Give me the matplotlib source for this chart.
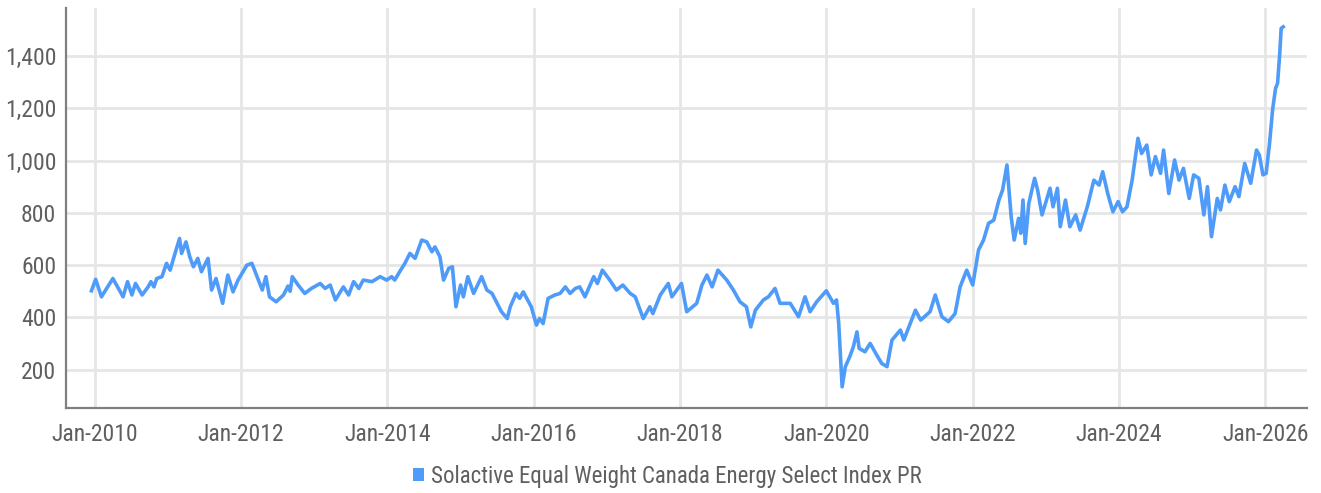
import matplotlib
matplotlib.use("Agg")
import matplotlib.pyplot as plt
import matplotlib.dates as mdates
from matplotlib import font_manager
from matplotlib.patches import Patch
from matplotlib.ticker import FuncFormatter, FixedLocator
import pandas as pd

# index level at turning points
dates = [
    "2009-12-15", "2010-01-05", "2010-02-03", "2010-04-01", "2010-05-22", "2010-06-13",
    "2010-07-05", "2010-07-23", "2010-08-25", "2010-09-24", "2010-10-08", "2010-10-23",
    "2010-11-06", "2010-12-02", "2010-12-25", "2011-01-12", "2011-02-03", "2011-02-28",
    "2011-03-10", "2011-04-01", "2011-04-20", "2011-05-08", "2011-05-30", "2011-06-17",
    "2011-07-20", "2011-08-07", "2011-08-29", "2011-10-01", "2011-10-27", "2011-11-22",
    "2011-12-17", "2012-01-30", "2012-02-24", "2012-03-21", "2012-04-16", "2012-05-04",
    "2012-05-22", "2012-06-24", "2012-07-31", "2012-08-22", "2012-09-02", "2012-09-13",
    "2012-10-12", "2012-11-14", "2012-12-17", "2013-01-30", "2013-02-24", "2013-03-21",
    "2013-04-16", "2013-05-26", "2013-06-21", "2013-07-16", "2013-08-11", "2013-09-02",
    "2013-10-16", "2013-11-25", "2013-12-28", "2014-01-22", "2014-02-06", "2014-03-03",
    "2014-03-29", "2014-04-23", "2014-05-19", "2014-06-21", "2014-07-16", "2014-08-11",
    "2014-08-26", "2014-09-20", "2014-10-08", "2014-11-03", "2014-11-21", "2014-12-09",
    "2015-01-01", "2015-01-15", "2015-02-06", "2015-03-07", "2015-04-16", "2015-05-12",
    "2015-06-07", "2015-07-24", "2015-08-22", "2015-09-06", "2015-10-05", "2015-10-23",
    "2015-11-10", "2015-12-20", "2016-01-15", "2016-01-30", "2016-02-17", "2016-03-13",
    "2016-04-16", "2016-05-12", "2016-06-07", "2016-07-01", "2016-07-27", "2016-08-18",
    "2016-09-13", "2016-10-27", "2016-11-14", "2016-12-09", "2017-01-15", "2017-02-17",
    "2017-03-21", "2017-04-27", "2017-05-22", "2017-07-01", "2017-08-03", "2017-08-18",
    "2017-09-24", "2017-11-03", "2017-11-21", "2018-01-08", "2018-02-03", "2018-03-25",
    "2018-04-20", "2018-05-15", "2018-06-10", "2018-07-09", "2018-08-22", "2018-09-24",
    "2018-10-27", "2018-11-28", "2018-12-20", "2019-01-12", "2019-02-21", "2019-03-18",
    "2019-04-20", "2019-05-15", "2019-07-05", "2019-08-15", "2019-09-17", "2019-10-12",
    "2019-11-14", "2020-01-01", "2020-02-06", "2020-02-21", "2020-03-03", "2020-03-20",
    "2020-04-05", "2020-04-27", "2020-05-15", "2020-06-02", "2020-06-13", "2020-07-12",
    "2020-08-07", "2020-09-09", "2020-10-04", "2020-10-30", "2020-11-24", "2021-01-05",
    "2021-01-22", "2021-03-21", "2021-04-16", "2021-06-02", "2021-06-28", "2021-07-31",
    "2021-09-02", "2021-10-05", "2021-10-30", "2021-12-02", "2022-01-01", "2022-01-30",
    "2022-02-24", "2022-03-21", "2022-04-16", "2022-05-12", "2022-05-30", "2022-06-21",
    "2022-07-05", "2022-07-12", "2022-07-27", "2022-08-18", "2022-08-29", "2022-09-09",
    "2022-09-20", "2022-10-08", "2022-11-06", "2022-11-21", "2022-12-13", "2023-01-22",
    "2023-02-06", "2023-02-28", "2023-03-14", "2023-04-09", "2023-05-01", "2023-05-30",
    "2023-06-21", "2023-07-27", "2023-08-29", "2023-09-24", "2023-10-12", "2023-11-06",
    "2023-12-02", "2023-12-28", "2024-01-19", "2024-02-10", "2024-03-07", "2024-04-05",
    "2024-04-23", "2024-05-19", "2024-06-10", "2024-07-01", "2024-07-27", "2024-08-11",
    "2024-09-06", "2024-10-05", "2024-10-27", "2024-11-18", "2024-12-17", "2025-01-08",
    "2025-02-03", "2025-02-28", "2025-03-18", "2025-04-07", "2025-05-06", "2025-05-22",
    "2025-06-13", "2025-07-05", "2025-08-03", "2025-08-22", "2025-09-20", "2025-10-20",
    "2025-11-18", "2025-12-02", "2025-12-20", "2026-01-05", "2026-01-22", "2026-02-06",
    "2026-02-21", "2026-03-03", "2026-03-14", "2026-03-21", "2026-03-31",
]
values = [
    502, 546, 479, 549, 479, 537,
    486, 530, 486, 517, 537, 517,
    549, 556, 607, 581, 639, 702,
    645, 689, 632, 594, 626, 575,
    626, 505, 549, 454, 562, 498,
    543, 600, 607, 556, 505, 556,
    479, 460, 486, 520, 500, 556,
    524, 492, 511, 530, 511, 524,
    467, 517, 486, 537, 511, 543,
    537, 556, 543, 556, 543, 575,
    607, 645, 626, 696, 689, 651,
    670, 632, 543, 588, 594, 441,
    524, 479, 556, 492, 556, 505,
    492, 422, 396, 441, 492, 473,
    498, 441, 371, 396, 377, 473,
    486, 492, 517, 492, 511, 517,
    479, 556, 530, 581, 543, 505,
    524, 492, 479, 396, 441, 415,
    486, 530, 479, 530, 422, 454,
    524, 562, 517, 581, 543, 505,
    460, 441, 364, 428, 467, 479,
    511, 454, 454, 403, 479, 422,
    460, 502, 454, 467, 377, 135,
    212, 250, 288, 345, 282, 269,
    301, 256, 224, 212, 314, 352,
    314, 428, 390, 422, 486, 403,
    384, 415, 517, 581, 524, 658,
    696, 760, 772, 849, 887, 983,
    849, 785, 696, 779, 722, 849,
    683, 836, 932, 887, 792, 894,
    823, 894, 747, 849, 747, 792,
    734, 823, 925, 906, 957, 874,
    804, 843, 804, 823, 925, 1085,
    1027, 1059, 945, 1015, 951, 1040,
    874, 1002, 925, 970, 855, 945,
    932, 792, 900, 709, 855, 811,
    906, 843, 900, 862, 989, 913,
    1040, 1021, 945, 951, 1066, 1193,
    1276, 1295, 1410, 1505, 1511,
]
series_name = "Solactive Equal Weight Canada Energy Select Index PR"
y_ticks = [200, 400, 600, 800, 1000, 1200, 1400]
x_tick_years = [2010, 2012, 2014, 2016, 2018, 2020, 2022, 2024, 2026]


def pick_font(names):
    for n in names:
        try:
            font_manager.findfont(font_manager.FontProperties(family=n), fallback_to_default=False)
            return n
        except Exception:
            continue
    return "DejaVu Sans"


fam = pick_font(["Liberation Sans Narrow", "Roboto Condensed", "Open Sans Condensed", "Roboto"])
plt.rcParams["font.family"] = [fam, "DejaVu Sans"]

line_color = "#4e9bfa"
grid_color = "#e6e6e6"
axis_color = "#808080"
text_color = "#5f5f5f"

x = pd.to_datetime(dates)

fig = plt.figure(figsize=(13.21, 4.93), dpi=100)
ax = fig.add_axes([66 / 1321, 1 - 408 / 493, (1307 - 66) / 1321, 400 / 493])

ax.plot(x, values, color=line_color, lw=2.6, solid_joinstyle="round", zorder=3)

ax.set_xlim(pd.Timestamp("2009-08-10"), pd.Timestamp("2026-07-28"))
ax.set_ylim(54, 1583)

ax.xaxis.set_major_locator(FixedLocator([mdates.date2num(pd.Timestamp(f"{y}-01-01")) for y in x_tick_years]))
ax.xaxis.set_major_formatter(mdates.DateFormatter("%b-%Y"))
ax.yaxis.set_major_locator(FixedLocator(y_ticks))
ax.yaxis.set_major_formatter(FuncFormatter(lambda v, p: f"{int(v):,}"))

ax.grid(True, color=grid_color, lw=2.0, zorder=0)
ax.set_axisbelow(True)

for side in ["top", "right"]:
    ax.spines[side].set_visible(False)
for side in ["left", "bottom"]:
    ax.spines[side].set_color(axis_color)
    ax.spines[side].set_linewidth(1.6)

ax.tick_params(axis="both", length=0, labelsize=17, colors=text_color)
ax.tick_params(axis="y", pad=7)
ax.tick_params(axis="x", pad=11)

handle = Patch(facecolor=line_color, edgecolor="none")
leg = fig.legend([handle], [series_name], loc="center", bbox_to_anchor=(0.505, 1 - 476 / 493),
                 frameon=False, fontsize=16.5, handlelength=0.5, handleheight=0.5,
                 handletextpad=0.3, labelcolor=text_color)

fig.savefig("out.png", dpi=100)
